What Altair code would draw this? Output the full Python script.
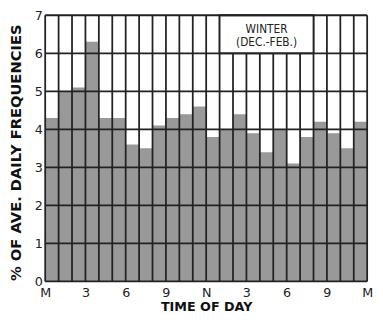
import altair as alt
import pandas as pd

hours = list(range(24))
values = [4.3, 5.0, 5.1, 6.3, 4.3, 4.3, 3.6, 3.5, 4.1, 4.3, 4.4, 4.6,
          3.8, 4.0, 4.4, 3.9, 3.4, 4.0, 3.1, 3.8, 4.2, 3.9, 3.5, 4.2]
x_ticks = [0, 3, 6, 9, 12, 15, 18, 21, 24]
x_labels = ["M", "3", "6", "9", "N", "3", "6", "9", "M"]
y_levels = [0, 1, 2, 3, 4, 5, 6, 7]
grid_hours = list(range(25))
title_lines = ["WINTER", "(DEC.-FEB.)"]
box = {"x": 13, "x2": 20, "y": 6, "y2": 7, "tx": 16.5, "ty": 6.64}

bars_df = pd.DataFrame({"start": hours, "end": [h + 1 for h in hours], "value": values})
vdf = pd.DataFrame({"h": grid_hours, "lo": min(y_levels), "hi": max(y_levels)})
hdf = pd.DataFrame({"lv": y_levels, "lo": min(grid_hours), "hi": max(grid_hours)})

label_expr = "[" + ",".join("'%s'" % l for l in x_labels) + "][datum.value/3]"

xs = alt.Scale(domain=[0, 24], nice=False, zero=False)
ys = alt.Scale(domain=[0, 7], nice=False)

LINE = "#222222"

x_axis = alt.Axis(
    values=x_ticks, labelExpr=label_expr, ticks=False, domain=False, grid=False,
    labelFontSize=13, labelColor="#222", labelPadding=5, labelFont="DejaVu Sans",
    labelOverlap=False, labelFlush=False,
    title="TIME OF DAY", titleFontSize=13, titleFontWeight=900, titleFont="DejaVu Sans",
    titleColor="#111", titleY=26, titleBaseline="middle")
y_axis = alt.Axis(
    values=y_levels, ticks=False, domain=False, grid=False,
    labelFontSize=13, labelColor="#222", labelPadding=3, labelFont="DejaVu Sans",
    labelOverlap=False, labelFlush=False, labelBound=False,
    title="% OF AVE. DAILY FREQUENCIES", titleFontSize=15, titleFontWeight=900,
    titleFont="DejaVu Sans", titleColor="#111", titleAngle=-90,
    titleX=-30, titleY=140, titleAlign="center", titleBaseline="middle")

bars = alt.Chart(bars_df).mark_rect(color="#999999").encode(
    x=alt.X("start:Q", scale=xs, axis=x_axis), x2="end:Q",
    y=alt.Y("value:Q", scale=ys, axis=y_axis), y2=alt.datum(0),
)

vrules = alt.Chart(vdf).mark_rule(color=LINE, strokeWidth=1.8).encode(
    x=alt.X("h:Q", scale=xs, axis=x_axis),
    y=alt.Y("lo:Q", scale=ys, axis=y_axis), y2="hi:Q")

hrules = alt.Chart(hdf).mark_rule(color=LINE, strokeWidth=1.8).encode(
    y=alt.Y("lv:Q", scale=ys, axis=y_axis),
    x=alt.X("lo:Q", scale=xs, axis=x_axis), x2="hi:Q")

boxdf = pd.DataFrame([box])
wbox = alt.Chart(boxdf).mark_rect(fill="white", stroke=LINE, strokeWidth=1.8).encode(
    x=alt.X("x:Q", scale=xs, axis=x_axis), x2="x2:Q",
    y=alt.Y("y:Q", scale=ys, axis=y_axis), y2="y2:Q")

tdf = pd.DataFrame({"t": [title_lines], "tx": [box["tx"]], "ty": [box["ty"]]})
ttext = alt.Chart(tdf).mark_text(
    fontSize=12, font="DejaVu Sans Condensed", color="#222", lineHeight=13, baseline="middle"
).encode(x=alt.X("tx:Q", scale=xs, axis=x_axis), y=alt.Y("ty:Q", scale=ys, axis=y_axis), text="t")

chart = alt.layer(bars, vrules, wbox, hrules, ttext).properties(
    width=329, height=272,
    autosize=alt.AutoSizeParams(type="none"),
    padding={"left": 38, "top": 4, "right": 8, "bottom": 37},
).configure_view(stroke=None)

chart.save("out.html", embed_options={"renderer": "svg", "actions": False})
